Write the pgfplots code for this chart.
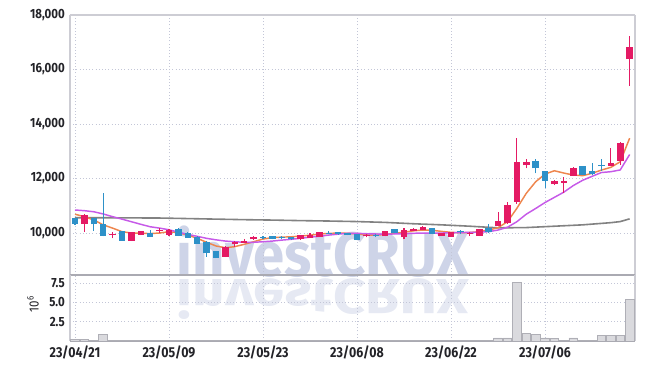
\documentclass[border=0pt]{standalone}
\usepackage{fontspec}
\setmainfont{Fira Sans}[FakeStretch=0.86]
\usepackage{graphicx}
\usepackage{pgfplots}
\usepackage{pgfplotstable}
\pgfplotsset{compat=1.18}

\definecolor{upc}{RGB}{228,26,100}
\definecolor{dnc}{RGB}{46,145,200}
\definecolor{ma5}{RGB}{238,134,78}
\definecolor{ma10}{RGB}{198,90,232}
\definecolor{ma60}{RGB}{130,130,130}
\definecolor{gridc}{RGB}{195,198,215}
\definecolor{axc}{RGB}{205,205,212}
\definecolor{sepc}{RGB}{170,170,178}
\definecolor{volf}{RGB}{218,218,222}
\definecolor{vold}{RGB}{175,175,182}
\definecolor{wm}{RGB}{206,212,232}
\definecolor{wm2}{RGB}{230,233,243}
\definecolor{txt}{RGB}{35,35,40}

\pgfplotstableread{
i o h l c
1 10330 10680 10050 10660
4 9920 10050 9805 9980
6 9720 10040 9700 10025
7 9925 10090 9920 10075
9 10060 10170 10010 10100
10 9925 10130 9890 10110
16 9130 9520 9120 9500
17 9585 9690 9500 9680
18 9645 9780 9640 9705
19 9770 9880 9760 9865
24 9770 9940 9760 9925
25 9805 10010 9800 9925
26 9865 10045 9860 10035
31 9880 9960 9840 9925
33 9890 10085 9880 10075
35 9840 10195 9770 10110
36 10075 10170 10060 10145
37 10120 10240 10110 10220
39 9900 10000 9890 9990
40 9865 10040 9860 10025
42 9980 10030 9900 10015
43 9900 10150 9890 10135
45 10255 10760 10240 10450
46 10355 11130 10340 11030
47 11150 13475 11065 12595
48 12485 12715 12375 12605
51 11785 11940 11760 11920
52 11845 12065 11480 11920
53 12105 12420 12090 12400
57 12470 13110 12460 12580
58 12655 13340 12495 13315
59 16385 17230 15395 16840
}\upcandles

\pgfplotstableread{
i o h l c
0 10540 10560 10300 10330
2 10550 10560 10085 10320
3 10330 11460 9880 9900
5 10075 10080 9710 9720
8 10000 10100 9850 9865
11 10135 10195 9890 9900
12 10010 10020 9820 9830
13 9865 9880 9600 9610
14 9680 9690 9130 9255
15 9340 9350 9080 9095
20 9860 9880 9790 9820
21 9890 9900 9770 9780
22 9850 9880 9770 9810
23 9840 9860 9750 9770
27 10010 10060 9960 9975
28 10025 10035 9940 9950
29 9990 10000 9920 9925
30 9950 9960 9740 9745
32 9920 9950 9850 9885
34 10135 10150 9985 9990
38 10170 10180 9955 9965
41 10060 10100 9960 10020
44 10170 10330 10015 10025
49 12640 12700 12190 12375
50 12275 12290 11640 11920
54 12460 12470 12120 12130
55 12285 12560 12140 12155
56 12500 12700 12280 12455
}\downcandles

\pgfplotstableread{
i ma5 ma10
0 10690 10845
1 10600 10820
2 10480 10780
3 10300 10700
4 10180 10600
5 10050 10510
6 10000 10415
7 9990 10320
8 9980 10230
9 10000 10180
10 10050 10120
11 10010 10030
12 9925 9950
13 9805 9880
14 9660 9805
15 9525 9750
16 9460 9705
17 9500 9680
18 9585 9660
19 9680 9660
20 9780 9680
21 9830 9705
22 9850 9740
23 9860 9770
24 9890 9805
25 9920 9850
26 9965 9880
27 9985 9925
28 10000 9960
29 9990 9990
30 9965 9990
31 9930 9975
32 9920 9965
33 9950 9960
34 9990 9965
35 10030 9975
36 10080 9990
37 10110 10000
38 10100 10000
39 10060 10000
40 10025 10010
41 10010 10015
42 10020 10025
43 10050 10030
44 10110 10050
45 10195 10110
46 10415 10210
47 10905 10415
48 11455 10690
49 11880 10900
50 12165 11120
51 12285 11310
52 12200 11500
53 12130 11740
54 12105 11935
55 12190 12080
56 12310 12220
57 12410 12250
58 12615 12315
59 13480 12880
}\mas

\pgfplotstableread{
i ma
0 10560
3 10560
6 10555
9 10550
12 10530
15 10510
18 10490
21 10475
24 10455
27 10440
30 10420
33 10390
36 10340
39 10300
42 10250
45 10190
48 10200
51 10250
54 10300
57 10380
58 10420
59 10520
}\malong

\pgfplotstableread{
i v
0 0.20
1 0.20
2 0.10
3 0.85
4 0.08
5 0.10
6 0.08
7 0.06
8 0.06
9 0.05
10 0.06
11 0.06
12 0.07
13 0.08
14 0.12
15 0.10
16 0.09
17 0.06
18 0.05
19 0.06
20 0.05
21 0.05
22 0.04
23 0.04
24 0.06
25 0.05
26 0.06
27 0.04
28 0.04
29 0.04
30 0.06
31 0.04
32 0.04
33 0.05
34 0.05
35 0.06
36 0.05
37 0.06
38 0.05
39 0.04
40 0.05
41 0.04
42 0.05
43 0.08
44 0.12
45 0.40
46 0.40
47 7.60
48 0.92
49 0.79
50 0.40
51 0.28
52 0.10
53 0.40
54 0.12
55 0.12
56 0.70
57 0.70
58 0.70
59 5.40
}\vol

\pgfplotsset{
  common/.style={
    scale only axis, width=423.75pt,
    xmin=-0.53, xmax=59.57,
    xtick={0,10,20,30,40,50},
    major tick length=0pt,
    grid=major,
    grid style={gridc, dash pattern=on 0.8pt off 1.6pt, line width=0.6pt},
    separate axis lines,
    y axis line style={axc, line width=0.8pt},
    /pgf/number format/assume math mode=true,
    yticklabel style={font=\fontsize{10}{12}\selectfont\bfseries, text=txt, inner sep=0pt, xshift=-3.75pt},
    xticklabel style={font=\fontsize{10.8}{12}\selectfont\bfseries, text=txt, inner sep=0pt, yshift=-3.5pt},
  },
  candle/.style 2 args={draw=none, mark=none, error bars/.cd, y dir=plus, y explicit, error mark=none,
    error bar style={draw=#1, line width=#2, line cap=butt}},
}

\begin{document}
\begin{tikzpicture}
\node[anchor=base west, inner sep=0pt, text=wm] at (80pt,-1.5pt) {\resizebox{219pt}{38pt}{\bfseries investCRUX}};
\node[anchor=base west, inner sep=0pt, text=wm2] at (80pt,-3pt) {\scalebox{1}[-1]{\resizebox{219pt}{30pt}{\bfseries investCRUX}}};

\begin{axis}[common,
  at={(0,0)}, anchor=south west,
  height=195pt,
  ymin=8460, ymax=18000,
  xticklabels={},
  ytick={10000,12000,14000,16000,18000},
  scaled y ticks=false,
  yticklabel style={/pgf/number format/.cd, 1000 sep={,}},
  x axis line style={axc, line width=0.8pt},
]
\addplot[ma60, line width=1.2pt] table[x=i, y=ma] {\malong};
\addplot[ma5, line width=1.1pt] table[x=i, y=ma5] {\mas};
\addplot[ma10, line width=1.1pt] table[x=i, y=ma10] {\mas};
% wicks
\addplot[candle={upc}{0.8pt}]
  table[x=i, y=l, y error plus expr=\thisrow{h}-\thisrow{l}] {\upcandles};
\addplot[candle={dnc}{0.8pt}]
  table[x=i, y=l, y error plus expr=\thisrow{h}-\thisrow{l}] {\downcandles};
% bodies
\addplot[candle={upc}{4.9pt}]
  table[x=i, y=o, y error plus expr=\thisrow{c}-\thisrow{o}] {\upcandles};
\addplot[candle={dnc}{4.9pt}]
  table[x=i, y=c, y error plus expr=\thisrow{o}-\thisrow{c}] {\downcandles};
\end{axis}

\begin{axis}[common,
  at={(0,0)}, anchor=north west,
  height=49.5pt,
  ymin=0, ymax=8.53,
  ytick={2.5,5,7.5},
  yticklabels={2.5,5.0,7.5},
  xticklabels={23/04/21,23/05/09,23/05/23,23/06/08,23/06/22,23/07/06},
  x axis line style={sepc, line width=0.9pt},
  ylabel={10\textsuperscript{6}},
  ylabel style={at={([xshift=-27.75pt]axis description cs:0,0.56)}, anchor=center, font=\fontsize{10}{12}\selectfont, text=txt},
]
\addplot[ybar, bar width=6.5pt, fill=volf, draw=vold, line width=0.6pt] table[x=i, y=v] {\vol};
\end{axis}

\pgfresetboundingbox
\path[use as bounding box] (-52.5pt,-71.25pt) rectangle (431.25pt,206.25pt);
\end{tikzpicture}
\end{document}
